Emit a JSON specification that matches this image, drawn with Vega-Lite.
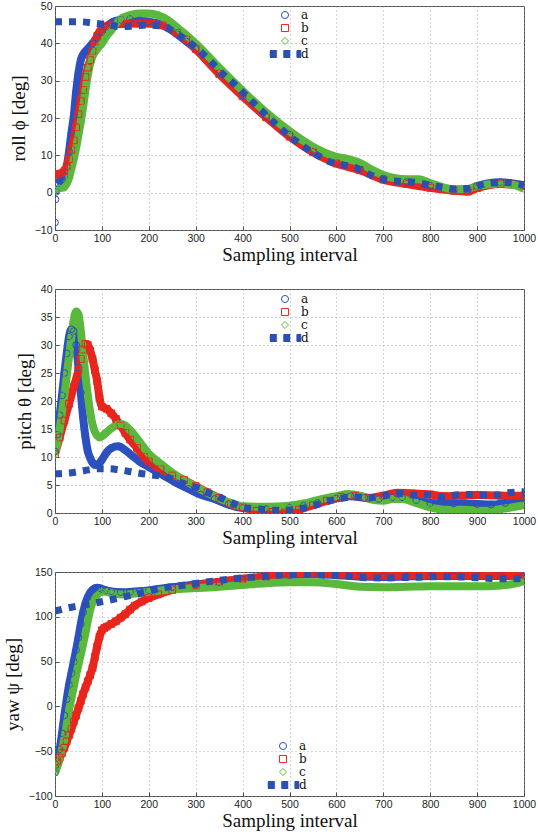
{
"$schema":"https://vega.github.io/schema/vega-lite/v6.json",
"background":"white",
"padding":{"left":2,"top":0,"right":0,"bottom":0},
"spacing":18,
"resolve":{"scale":{"x":"independent","y":"independent","color":"independent","shape":"independent","stroke":"independent","strokeWidth":"independent"},"legend":{"color":"independent","shape":"independent"}},
"config":{
 "font":"Liberation Sans",
 "view":{"stroke":"#4d4d4d","strokeWidth":1},
 "axis":{"domain":false,"grid":true,"gridColor":"#9a9a9a","gridDash":[1,3],"gridWidth":0.8,"tickSize":-4,"tickColor":"#4d4d4d","labelFont":"Liberation Sans","labelFontSize":10.5,"labelColor":"#222","labelPadding":7,"labelFlush":false,"titleFont":"Liberation Serif","titleFontSize":19,"titleFontWeight":"normal","titleColor":"#111"},
 "axisX":{"titlePadding":2,"format":"d"},
 "axisY":{"titlePadding":6},
 "legend":{"orient":"none","title":null,"padding":0,"labelFont":"DejaVu Serif","labelFontSize":12,"labelColor":"#111","labelOffset":10,"rowPadding":1,"symbolSize":50,"symbolStrokeWidth":1}
},
"vconcat":[
{
 "width":469,"height":224,
 "data":{"values":[
{"s":"a","x":0,"y":-8},{"s":"a","x":1,"y":-1.8},{"s":"a","x":2,"y":0.2},{"s":"a","x":5,"y":2.5},{"s":"a","x":10,"y":3},{"s":"a","x":15,"y":3.5},{"s":"a","x":20,"y":4.5},{"s":"a","x":25,"y":7},{"s":"a","x":30,"y":11},{"s":"a","x":35,"y":16},{"s":"a","x":40,"y":20.5},{"s":"a","x":45,"y":27},{"s":"a","x":50,"y":32},{"s":"a","x":55,"y":35.5},{"s":"a","x":60,"y":37},{"s":"a","x":70,"y":38.5},{"s":"a","x":80,"y":40},{"s":"a","x":90,"y":41.5},{"s":"a","x":100,"y":43},{"s":"a","x":110,"y":44.5},{"s":"a","x":120,"y":45.5},{"s":"a","x":140,"y":46.3},{"s":"a","x":160,"y":46.5},{"s":"a","x":180,"y":46.2},{"s":"a","x":200,"y":45.8},{"s":"a","x":220,"y":45.3},{"s":"a","x":240,"y":44.2},{"s":"a","x":260,"y":42.5},{"s":"a","x":280,"y":40.5},{"s":"a","x":300,"y":38.5},{"s":"a","x":350,"y":32},{"s":"a","x":400,"y":26},{"s":"a","x":450,"y":20.5},{"s":"a","x":500,"y":15.5},{"s":"a","x":550,"y":11},{"s":"a","x":600,"y":8},{"s":"a","x":650,"y":6.3},{"s":"a","x":700,"y":3.8},{"s":"a","x":750,"y":2.8},{"s":"a","x":800,"y":1.8},{"s":"a","x":850,"y":0.8},{"s":"a","x":880,"y":0.8},{"s":"a","x":900,"y":1.8},{"s":"a","x":950,"y":2.8},{"s":"a","x":1000,"y":2},
{"s":"b","x":0,"y":4.8},{"s":"b","x":10,"y":5.1},{"s":"b","x":20,"y":5.8},{"s":"b","x":25,"y":7},{"s":"b","x":30,"y":9},{"s":"b","x":35,"y":11.5},{"s":"b","x":40,"y":14},{"s":"b","x":45,"y":17.5},{"s":"b","x":50,"y":21},{"s":"b","x":55,"y":24.5},{"s":"b","x":60,"y":27.5},{"s":"b","x":65,"y":31},{"s":"b","x":70,"y":33.5},{"s":"b","x":75,"y":35.5},{"s":"b","x":80,"y":38},{"s":"b","x":85,"y":40.5},{"s":"b","x":90,"y":42},{"s":"b","x":100,"y":44},{"s":"b","x":120,"y":45},{"s":"b","x":150,"y":45.2},{"s":"b","x":180,"y":45.3},{"s":"b","x":200,"y":45.3},{"s":"b","x":230,"y":44.8},{"s":"b","x":260,"y":42.8},{"s":"b","x":280,"y":41},{"s":"b","x":300,"y":38.5},{"s":"b","x":350,"y":31.8},{"s":"b","x":400,"y":25.8},{"s":"b","x":450,"y":20.2},{"s":"b","x":500,"y":15},{"s":"b","x":550,"y":10.8},{"s":"b","x":600,"y":7.8},{"s":"b","x":650,"y":6},{"s":"b","x":700,"y":3.5},{"s":"b","x":750,"y":2.3},{"s":"b","x":800,"y":1.3},{"s":"b","x":850,"y":0.5},{"s":"b","x":880,"y":0.3},{"s":"b","x":900,"y":1.2},{"s":"b","x":950,"y":2.3},{"s":"b","x":1000,"y":1.8},
{"s":"c","x":0,"y":0.8},{"s":"c","x":10,"y":1.2},{"s":"c","x":20,"y":1.5},{"s":"c","x":25,"y":2.5},{"s":"c","x":30,"y":4},{"s":"c","x":35,"y":6.5},{"s":"c","x":40,"y":9},{"s":"c","x":45,"y":12},{"s":"c","x":50,"y":15.5},{"s":"c","x":55,"y":19},{"s":"c","x":60,"y":23},{"s":"c","x":65,"y":27.5},{"s":"c","x":70,"y":31.5},{"s":"c","x":75,"y":34.5},{"s":"c","x":80,"y":36.5},{"s":"c","x":90,"y":38.5},{"s":"c","x":100,"y":40},{"s":"c","x":110,"y":42},{"s":"c","x":120,"y":43.5},{"s":"c","x":130,"y":45.3},{"s":"c","x":140,"y":46.5},{"s":"c","x":160,"y":47.6},{"s":"c","x":180,"y":48},{"s":"c","x":200,"y":48},{"s":"c","x":220,"y":47.5},{"s":"c","x":240,"y":46.3},{"s":"c","x":260,"y":44.3},{"s":"c","x":280,"y":42.2},{"s":"c","x":300,"y":40},{"s":"c","x":350,"y":33.5},{"s":"c","x":400,"y":27.3},{"s":"c","x":450,"y":21.5},{"s":"c","x":500,"y":16.5},{"s":"c","x":550,"y":12.3},{"s":"c","x":600,"y":9.6},{"s":"c","x":625,"y":9},{"s":"c","x":650,"y":8},{"s":"c","x":675,"y":6.2},{"s":"c","x":700,"y":4.7},{"s":"c","x":750,"y":3.6},{"s":"c","x":775,"y":3.6},{"s":"c","x":800,"y":2.6},{"s":"c","x":850,"y":0.9},{"s":"c","x":880,"y":1},{"s":"c","x":900,"y":1.8},{"s":"c","x":950,"y":2.4},{"s":"c","x":980,"y":2},{"s":"c","x":1000,"y":1},
{"s":"d","x":0,"y":45.8},{"s":"d","x":50,"y":45.8},{"s":"d","x":90,"y":45.3},{"s":"d","x":115,"y":45},{"s":"d","x":137,"y":44.5},{"s":"d","x":167,"y":44.6},{"s":"d","x":196,"y":44.9},{"s":"d","x":225,"y":44.7},{"s":"d","x":250,"y":43.4},{"s":"d","x":276,"y":41.2},{"s":"d","x":298,"y":39.1},{"s":"d","x":320,"y":36.6},{"s":"d","x":340,"y":34.1},{"s":"d","x":360,"y":31.5},{"s":"d","x":384,"y":28.9},{"s":"d","x":404,"y":26.4},{"s":"d","x":430,"y":23.2},{"s":"d","x":450,"y":20.8},{"s":"d","x":472,"y":18.2},{"s":"d","x":493,"y":15.9},{"s":"d","x":514,"y":13.8},{"s":"d","x":539,"y":11.6},{"s":"d","x":561,"y":9.9},{"s":"d","x":587,"y":8.2},{"s":"d","x":616,"y":7.4},{"s":"d","x":643,"y":6.6},{"s":"d","x":670,"y":4.9},{"s":"d","x":697,"y":3.6},{"s":"d","x":737,"y":3},{"s":"d","x":766,"y":2.8},{"s":"d","x":799,"y":2},{"s":"d","x":828,"y":1.4},{"s":"d","x":850,"y":1},{"s":"d","x":879,"y":1.1},{"s":"d","x":909,"y":2.1},{"s":"d","x":934,"y":2.6},{"s":"d","x":963,"y":2.7},{"s":"d","x":1000,"y":2}
 ]},
 "encoding":{
  "x":{"field":"x","type":"quantitative","scale":{"domain":[0,1000],"nice":false,"zero":false},"axis":{"values":[0,100,200,300,400,500,600,700,800,900,1000],"title":"Sampling interval"}},
  "y":{"field":"y","type":"quantitative","scale":{"domain":[-10,50],"nice":false,"zero":false},"axis":{"values":[-10,0,10,20,30,40,50],"title":"roll ϕ [deg]"}}
 },
 "layer":[
  {"transform":[{"filter":"datum.s !== 'd' && (datum.s !== 'a' || datum.x >= 4)"}],
   "mark":{"type":"line","interpolate":"monotone","clip":true},
   "encoding":{"stroke":{"field":"s","type":"nominal","scale":{"domain":["a","b","c"],"range":["#2c50c0","#e8261d","#5ab83c"]},"legend":null},"strokeWidth":{"field":"s","type":"nominal","scale":{"domain":["a","b","c"],"range":[8,8,10]},"legend":null}}},
  {"transform":[{"filter":"datum.s !== 'd'"}],
   "mark":{"type":"point","filled":false,"size":45,"strokeWidth":1,"opacity":1,"clip":true},
   "encoding":{
    "color":{"field":"s","type":"nominal","scale":{"domain":["a","b","c","d"],"range":["#2c50c0","#e8261d","#5ab83c","#2a4fb0"]},"legend":{"legendX":224,"legendY":3}},
    "shape":{"field":"s","type":"nominal","scale":{"domain":["a","b","c","d"],"range":["circle","square","diamond","M-4.24,-0.99H-2.35V-0.71H-4.24V-0.42H-2.35V-0.14H-4.24V0.14H-2.35V0.42H-4.24V0.71H-2.35V0.99H-4.24M-0.45,-0.99H1.41V-0.71H-0.45V-0.42H1.41V-0.14H-0.45V0.14H1.41V0.42H-0.45V0.71H1.41V0.99H-0.45M3.3,-0.99H4.52V-0.71H3.3V-0.42H4.52V-0.14H3.3V0.14H4.52V0.42H3.3V0.71H4.52V0.99H3.3"]},"legend":{"legendX":224,"legendY":3}}
   }},
  {"transform":[{"filter":"datum.s === 'd'"}],
   "mark":{"type":"line","strokeWidth":7,"strokeDash":[7,7],"strokeCap":"butt","color":"#2a4fb0","interpolate":"monotone","clip":true},
   "encoding":{}}
 ]
},
{
 "width":469,"height":224,
 "data":{"values":[
{"s":"a","x":0,"y":11},{"s":"a","x":5,"y":14},{"s":"a","x":10,"y":17.5},{"s":"a","x":15,"y":21},{"s":"a","x":20,"y":25},{"s":"a","x":25,"y":28.5},{"s":"a","x":30,"y":31.5},{"s":"a","x":35,"y":32.8},{"s":"a","x":40,"y":32.5},{"s":"a","x":45,"y":30},{"s":"a","x":50,"y":26},{"s":"a","x":55,"y":21.5},{"s":"a","x":60,"y":17},{"s":"a","x":65,"y":13.5},{"s":"a","x":70,"y":11},{"s":"a","x":75,"y":9.8},{"s":"a","x":80,"y":9},{"s":"a","x":85,"y":8.6},{"s":"a","x":90,"y":8.6},{"s":"a","x":100,"y":9.5},{"s":"a","x":110,"y":10.8},{"s":"a","x":120,"y":11.6},{"s":"a","x":135,"y":11.9},{"s":"a","x":150,"y":11.2},{"s":"a","x":165,"y":10.2},{"s":"a","x":180,"y":9.2},{"s":"a","x":200,"y":8.2},{"s":"a","x":230,"y":6.8},{"s":"a","x":260,"y":5.3},{"s":"a","x":285,"y":4.3},{"s":"a","x":310,"y":3.3},{"s":"a","x":340,"y":2.5},{"s":"a","x":370,"y":1.5},{"s":"a","x":400,"y":0.9},{"s":"a","x":450,"y":0.7},{"s":"a","x":500,"y":1},{"s":"a","x":530,"y":1.3},{"s":"a","x":560,"y":1.8},{"s":"a","x":600,"y":2.6},{"s":"a","x":630,"y":3},{"s":"a","x":660,"y":2.7},{"s":"a","x":690,"y":2.5},{"s":"a","x":720,"y":2.8},{"s":"a","x":740,"y":2.8},{"s":"a","x":770,"y":2.3},{"s":"a","x":800,"y":1.8},{"s":"a","x":850,"y":1.7},{"s":"a","x":900,"y":1.6},{"s":"a","x":930,"y":1.5},{"s":"a","x":960,"y":1.8},{"s":"a","x":1000,"y":2.5},
{"s":"b","x":0,"y":10.5},{"s":"b","x":10,"y":13.5},{"s":"b","x":20,"y":16.5},{"s":"b","x":30,"y":19.5},{"s":"b","x":40,"y":22.5},{"s":"b","x":50,"y":25.5},{"s":"b","x":55,"y":27.5},{"s":"b","x":60,"y":29.2},{"s":"b","x":65,"y":30.2},{"s":"b","x":70,"y":30},{"s":"b","x":75,"y":29},{"s":"b","x":80,"y":27.5},{"s":"b","x":85,"y":25.5},{"s":"b","x":90,"y":23.5},{"s":"b","x":95,"y":20.5},{"s":"b","x":100,"y":19},{"s":"b","x":110,"y":18.6},{"s":"b","x":120,"y":17.8},{"s":"b","x":130,"y":16.8},{"s":"b","x":140,"y":15.6},{"s":"b","x":150,"y":14.3},{"s":"b","x":160,"y":13.1},{"s":"b","x":175,"y":11.6},{"s":"b","x":190,"y":10},{"s":"b","x":200,"y":9.2},{"s":"b","x":225,"y":7.8},{"s":"b","x":250,"y":6.7},{"s":"b","x":275,"y":5.9},{"s":"b","x":300,"y":4.8},{"s":"b","x":325,"y":3.7},{"s":"b","x":350,"y":2.7},{"s":"b","x":375,"y":1.6},{"s":"b","x":400,"y":1},{"s":"b","x":430,"y":0.4},{"s":"b","x":460,"y":0.2},{"s":"b","x":490,"y":0.1},{"s":"b","x":520,"y":0.6},{"s":"b","x":550,"y":1.4},{"s":"b","x":580,"y":2.2},{"s":"b","x":610,"y":2.9},{"s":"b","x":640,"y":3.1},{"s":"b","x":670,"y":2.7},{"s":"b","x":700,"y":3.1},{"s":"b","x":730,"y":3.6},{"s":"b","x":760,"y":3.5},{"s":"b","x":800,"y":3.3},{"s":"b","x":830,"y":3},{"s":"b","x":870,"y":3.1},{"s":"b","x":900,"y":3.2},{"s":"b","x":950,"y":3.1},{"s":"b","x":1000,"y":3.1},
{"s":"c","x":0,"y":10.5},{"s":"c","x":5,"y":12.5},{"s":"c","x":10,"y":15},{"s":"c","x":15,"y":18},{"s":"c","x":20,"y":21},{"s":"c","x":25,"y":24.5},{"s":"c","x":30,"y":28},{"s":"c","x":35,"y":31.5},{"s":"c","x":40,"y":34.5},{"s":"c","x":45,"y":36},{"s":"c","x":50,"y":35.5},{"s":"c","x":55,"y":32.5},{"s":"c","x":60,"y":28.5},{"s":"c","x":65,"y":24.5},{"s":"c","x":70,"y":21},{"s":"c","x":75,"y":18},{"s":"c","x":80,"y":15.8},{"s":"c","x":85,"y":14.5},{"s":"c","x":90,"y":13.8},{"s":"c","x":95,"y":13.5},{"s":"c","x":100,"y":13.7},{"s":"c","x":110,"y":14.4},{"s":"c","x":120,"y":15.1},{"s":"c","x":130,"y":15.7},{"s":"c","x":140,"y":15.9},{"s":"c","x":150,"y":15.6},{"s":"c","x":160,"y":14.8},{"s":"c","x":175,"y":13.3},{"s":"c","x":190,"y":11.6},{"s":"c","x":200,"y":10.6},{"s":"c","x":225,"y":8.8},{"s":"c","x":250,"y":7.2},{"s":"c","x":275,"y":5.9},{"s":"c","x":300,"y":4.7},{"s":"c","x":325,"y":3.6},{"s":"c","x":350,"y":2.6},{"s":"c","x":375,"y":1.8},{"s":"c","x":400,"y":1.2},{"s":"c","x":450,"y":1.1},{"s":"c","x":500,"y":1.3},{"s":"c","x":530,"y":1.7},{"s":"c","x":560,"y":2.3},{"s":"c","x":600,"y":3},{"s":"c","x":625,"y":3.4},{"s":"c","x":650,"y":3.1},{"s":"c","x":680,"y":2.3},{"s":"c","x":700,"y":2.2},{"s":"c","x":720,"y":2.5},{"s":"c","x":740,"y":2.5},{"s":"c","x":770,"y":1.8},{"s":"c","x":800,"y":1},{"s":"c","x":830,"y":0.6},{"s":"c","x":870,"y":0.6},{"s":"c","x":920,"y":0.4},{"s":"c","x":950,"y":0.7},{"s":"c","x":980,"y":1.1},{"s":"c","x":1000,"y":1.4},
{"s":"d","x":0,"y":7},{"s":"d","x":35,"y":7.2},{"s":"d","x":64,"y":7.6},{"s":"d","x":94,"y":7.9},{"s":"d","x":115,"y":7.9},{"s":"d","x":137,"y":7.7},{"s":"d","x":167,"y":7.3},{"s":"d","x":196,"y":6.9},{"s":"d","x":225,"y":6.6},{"s":"d","x":250,"y":6.1},{"s":"d","x":276,"y":5.2},{"s":"d","x":306,"y":4.4},{"s":"d","x":327,"y":3.6},{"s":"d","x":357,"y":2.6},{"s":"d","x":386,"y":1.5},{"s":"d","x":408,"y":0.9},{"s":"d","x":437,"y":0.7},{"s":"d","x":466,"y":0.5},{"s":"d","x":496,"y":0.5},{"s":"d","x":525,"y":0.8},{"s":"d","x":554,"y":1.4},{"s":"d","x":583,"y":2.1},{"s":"d","x":609,"y":2.6},{"s":"d","x":638,"y":2.9},{"s":"d","x":667,"y":2.7},{"s":"d","x":689,"y":2.9},{"s":"d","x":711,"y":3.2},{"s":"d","x":737,"y":3.5},{"s":"d","x":766,"y":3.2},{"s":"d","x":795,"y":3.2},{"s":"d","x":825,"y":2.9},{"s":"d","x":854,"y":3.2},{"s":"d","x":883,"y":3.3},{"s":"d","x":912,"y":3.2},{"s":"d","x":942,"y":3.2},{"s":"d","x":967,"y":3.6},{"s":"d","x":1000,"y":3.8}
 ]},
 "encoding":{
  "x":{"field":"x","type":"quantitative","scale":{"domain":[0,1000],"nice":false,"zero":false},"axis":{"values":[0,100,200,300,400,500,600,700,800,900,1000],"title":"Sampling interval"}},
  "y":{"field":"y","type":"quantitative","scale":{"domain":[0,40],"nice":false,"zero":false},"axis":{"values":[0,5,10,15,20,25,30,35,40],"title":"pitch θ [deg]"}}
 },
 "layer":[
  {"transform":[{"filter":"datum.s !== 'd'"}],
   "mark":{"type":"line","interpolate":"monotone","clip":true},
   "encoding":{"stroke":{"field":"s","type":"nominal","scale":{"domain":["a","b","c"],"range":["#2c50c0","#e8261d","#5ab83c"]},"legend":null},"strokeWidth":{"field":"s","type":"nominal","scale":{"domain":["a","b","c"],"range":[8,8,10]},"legend":null}}},
  {"transform":[{"filter":"datum.s !== 'd'"}],
   "mark":{"type":"point","filled":false,"size":45,"strokeWidth":1,"opacity":1,"clip":true},
   "encoding":{
    "color":{"field":"s","type":"nominal","scale":{"domain":["a","b","c","d"],"range":["#2c50c0","#e8261d","#5ab83c","#2a4fb0"]},"legend":{"legendX":224,"legendY":4}},
    "shape":{"field":"s","type":"nominal","scale":{"domain":["a","b","c","d"],"range":["circle","square","diamond","M-4.24,-0.99H-2.35V-0.71H-4.24V-0.42H-2.35V-0.14H-4.24V0.14H-2.35V0.42H-4.24V0.71H-2.35V0.99H-4.24M-0.45,-0.99H1.41V-0.71H-0.45V-0.42H1.41V-0.14H-0.45V0.14H1.41V0.42H-0.45V0.71H1.41V0.99H-0.45M3.3,-0.99H4.52V-0.71H3.3V-0.42H4.52V-0.14H3.3V0.14H4.52V0.42H3.3V0.71H4.52V0.99H3.3"]},"legend":{"legendX":224,"legendY":4}}
   }},
  {"transform":[{"filter":"datum.s === 'd'"}],
   "mark":{"type":"line","strokeWidth":7,"strokeDash":[7,7],"strokeCap":"butt","color":"#2a4fb0","interpolate":"monotone","clip":true},
   "encoding":{}}
 ]
},
{
 "width":469,"height":224,
 "data":{"values":[
{"s":"a","x":0,"y":-74},{"s":"a","x":5,"y":-62},{"s":"a","x":10,"y":-48},{"s":"a","x":15,"y":-30},{"s":"a","x":20,"y":-10},{"s":"a","x":25,"y":8},{"s":"a","x":30,"y":24},{"s":"a","x":35,"y":37},{"s":"a","x":40,"y":50},{"s":"a","x":45,"y":63},{"s":"a","x":50,"y":77},{"s":"a","x":55,"y":92},{"s":"a","x":60,"y":105},{"s":"a","x":65,"y":115},{"s":"a","x":70,"y":122},{"s":"a","x":75,"y":127},{"s":"a","x":80,"y":130},{"s":"a","x":85,"y":132},{"s":"a","x":90,"y":132.5},{"s":"a","x":95,"y":132},{"s":"a","x":100,"y":131},{"s":"a","x":110,"y":129.5},{"s":"a","x":120,"y":128.3},{"s":"a","x":140,"y":127.5},{"s":"a","x":160,"y":127.8},{"s":"a","x":180,"y":128.5},{"s":"a","x":200,"y":129.5},{"s":"a","x":250,"y":133},{"s":"a","x":300,"y":136},{"s":"a","x":350,"y":139},{"s":"a","x":400,"y":142},{"s":"a","x":450,"y":144.5},{"s":"a","x":500,"y":146.5},{"s":"a","x":550,"y":147.5},{"s":"a","x":600,"y":146.5},{"s":"a","x":650,"y":145},{"s":"a","x":700,"y":144.5},{"s":"a","x":750,"y":145},{"s":"a","x":800,"y":145.5},{"s":"a","x":850,"y":145.5},{"s":"a","x":900,"y":145.5},{"s":"a","x":950,"y":145.5},{"s":"a","x":1000,"y":146},
{"s":"b","x":0,"y":-65},{"s":"b","x":5,"y":-61},{"s":"b","x":10,"y":-57},{"s":"b","x":15,"y":-52},{"s":"b","x":20,"y":-46},{"s":"b","x":25,"y":-39},{"s":"b","x":30,"y":-32},{"s":"b","x":35,"y":-25},{"s":"b","x":40,"y":-17},{"s":"b","x":45,"y":-10},{"s":"b","x":50,"y":-2},{"s":"b","x":55,"y":6},{"s":"b","x":60,"y":14},{"s":"b","x":65,"y":21},{"s":"b","x":70,"y":28},{"s":"b","x":75,"y":35},{"s":"b","x":80,"y":43},{"s":"b","x":85,"y":55},{"s":"b","x":90,"y":67},{"s":"b","x":95,"y":78},{"s":"b","x":100,"y":85},{"s":"b","x":105,"y":87.5},{"s":"b","x":110,"y":89},{"s":"b","x":120,"y":92},{"s":"b","x":130,"y":95},{"s":"b","x":140,"y":99},{"s":"b","x":150,"y":103},{"s":"b","x":160,"y":108},{"s":"b","x":170,"y":112.5},{"s":"b","x":185,"y":117},{"s":"b","x":200,"y":121},{"s":"b","x":220,"y":125},{"s":"b","x":250,"y":130},{"s":"b","x":300,"y":135},{"s":"b","x":350,"y":139},{"s":"b","x":400,"y":142.5},{"s":"b","x":450,"y":145},{"s":"b","x":500,"y":147.5},{"s":"b","x":540,"y":148.5},{"s":"b","x":575,"y":148},{"s":"b","x":600,"y":147.5},{"s":"b","x":650,"y":146.5},{"s":"b","x":700,"y":146},{"s":"b","x":750,"y":146.5},{"s":"b","x":800,"y":146.5},{"s":"b","x":850,"y":146.5},{"s":"b","x":900,"y":146.5},{"s":"b","x":950,"y":146.5},{"s":"b","x":1000,"y":147},
{"s":"c","x":0,"y":-74},{"s":"c","x":5,"y":-67},{"s":"c","x":10,"y":-59},{"s":"c","x":15,"y":-48},{"s":"c","x":20,"y":-36},{"s":"c","x":25,"y":-20},{"s":"c","x":30,"y":-4},{"s":"c","x":35,"y":9},{"s":"c","x":40,"y":22},{"s":"c","x":45,"y":35},{"s":"c","x":50,"y":47},{"s":"c","x":55,"y":58},{"s":"c","x":60,"y":70},{"s":"c","x":65,"y":82},{"s":"c","x":70,"y":96},{"s":"c","x":75,"y":108},{"s":"c","x":80,"y":116},{"s":"c","x":85,"y":121},{"s":"c","x":90,"y":124.5},{"s":"c","x":95,"y":127},{"s":"c","x":100,"y":128.2},{"s":"c","x":110,"y":127.8},{"s":"c","x":120,"y":126.5},{"s":"c","x":140,"y":125},{"s":"c","x":160,"y":125.3},{"s":"c","x":180,"y":126.5},{"s":"c","x":200,"y":128},{"s":"c","x":250,"y":130.5},{"s":"c","x":300,"y":132},{"s":"c","x":350,"y":133.5},{"s":"c","x":400,"y":135.5},{"s":"c","x":450,"y":137.5},{"s":"c","x":500,"y":138.5},{"s":"c","x":550,"y":138.5},{"s":"c","x":600,"y":136.5},{"s":"c","x":650,"y":133.5},{"s":"c","x":700,"y":133},{"s":"c","x":750,"y":133.5},{"s":"c","x":800,"y":134},{"s":"c","x":850,"y":134},{"s":"c","x":900,"y":134},{"s":"c","x":950,"y":135},{"s":"c","x":980,"y":137},{"s":"c","x":1000,"y":140},
{"s":"d","x":0,"y":106.5},{"s":"d","x":35,"y":110.7},{"s":"d","x":65,"y":113.3},{"s":"d","x":94,"y":116.3},{"s":"d","x":112,"y":118.2},{"s":"d","x":138,"y":121.2},{"s":"d","x":167,"y":124.6},{"s":"d","x":193,"y":127.5},{"s":"d","x":222,"y":131.3},{"s":"d","x":252,"y":134},{"s":"d","x":281,"y":135.8},{"s":"d","x":310,"y":138},{"s":"d","x":340,"y":140},{"s":"d","x":369,"y":141.8},{"s":"d","x":398,"y":143.3},{"s":"d","x":428,"y":144.4},{"s":"d","x":457,"y":145.5},{"s":"d","x":486,"y":147},{"s":"d","x":523,"y":147.4},{"s":"d","x":552,"y":147.4},{"s":"d","x":582,"y":146.3},{"s":"d","x":611,"y":146.3},{"s":"d","x":640,"y":144.4},{"s":"d","x":670,"y":143.6},{"s":"d","x":699,"y":143.3},{"s":"d","x":728,"y":143.6},{"s":"d","x":758,"y":144},{"s":"d","x":787,"y":144.4},{"s":"d","x":824,"y":144.8},{"s":"d","x":853,"y":144.8},{"s":"d","x":883,"y":144},{"s":"d","x":912,"y":143.3},{"s":"d","x":941,"y":142.5},{"s":"d","x":971,"y":142.5},{"s":"d","x":1000,"y":142.5}
 ]},
 "encoding":{
  "x":{"field":"x","type":"quantitative","scale":{"domain":[0,1000],"nice":false,"zero":false},"axis":{"values":[0,100,200,300,400,500,600,700,800,900,1000],"title":"Sampling interval"}},
  "y":{"field":"y","type":"quantitative","scale":{"domain":[-100,150],"nice":false,"zero":false},"axis":{"values":[-100,-50,0,50,100,150],"title":"yaw ψ [deg]"}}
 },
 "layer":[
  {"transform":[{"filter":"datum.s !== 'd'"}],
   "mark":{"type":"line","interpolate":"monotone","clip":true},
   "encoding":{"stroke":{"field":"s","type":"nominal","scale":{"domain":["a","b","c"],"range":["#2c50c0","#e8261d","#5ab83c"]},"legend":null},"strokeWidth":{"field":"s","type":"nominal","scale":{"domain":["a","b","c"],"range":[8,8,10]},"legend":null}}},
  {"transform":[{"filter":"datum.s !== 'd'"}],
   "mark":{"type":"point","filled":false,"size":45,"strokeWidth":1,"opacity":1,"clip":true},
   "encoding":{
    "color":{"field":"s","type":"nominal","scale":{"domain":["a","b","c","d"],"range":["#2c50c0","#e8261d","#5ab83c","#2a4fb0"]},"legend":{"legendX":222,"legendY":168}},
    "shape":{"field":"s","type":"nominal","scale":{"domain":["a","b","c","d"],"range":["circle","square","diamond","M-4.24,-0.99H-2.35V-0.71H-4.24V-0.42H-2.35V-0.14H-4.24V0.14H-2.35V0.42H-4.24V0.71H-2.35V0.99H-4.24M-0.45,-0.99H1.41V-0.71H-0.45V-0.42H1.41V-0.14H-0.45V0.14H1.41V0.42H-0.45V0.71H1.41V0.99H-0.45M3.3,-0.99H4.52V-0.71H3.3V-0.42H4.52V-0.14H3.3V0.14H4.52V0.42H3.3V0.71H4.52V0.99H3.3"]},"legend":{"legendX":222,"legendY":168}}
   }},
  {"transform":[{"filter":"datum.s === 'd'"}],
   "mark":{"type":"line","strokeWidth":7,"strokeDash":[7,7],"strokeCap":"butt","color":"#2a4fb0","interpolate":"monotone","clip":true},
   "encoding":{}}
 ]
}
]
}
